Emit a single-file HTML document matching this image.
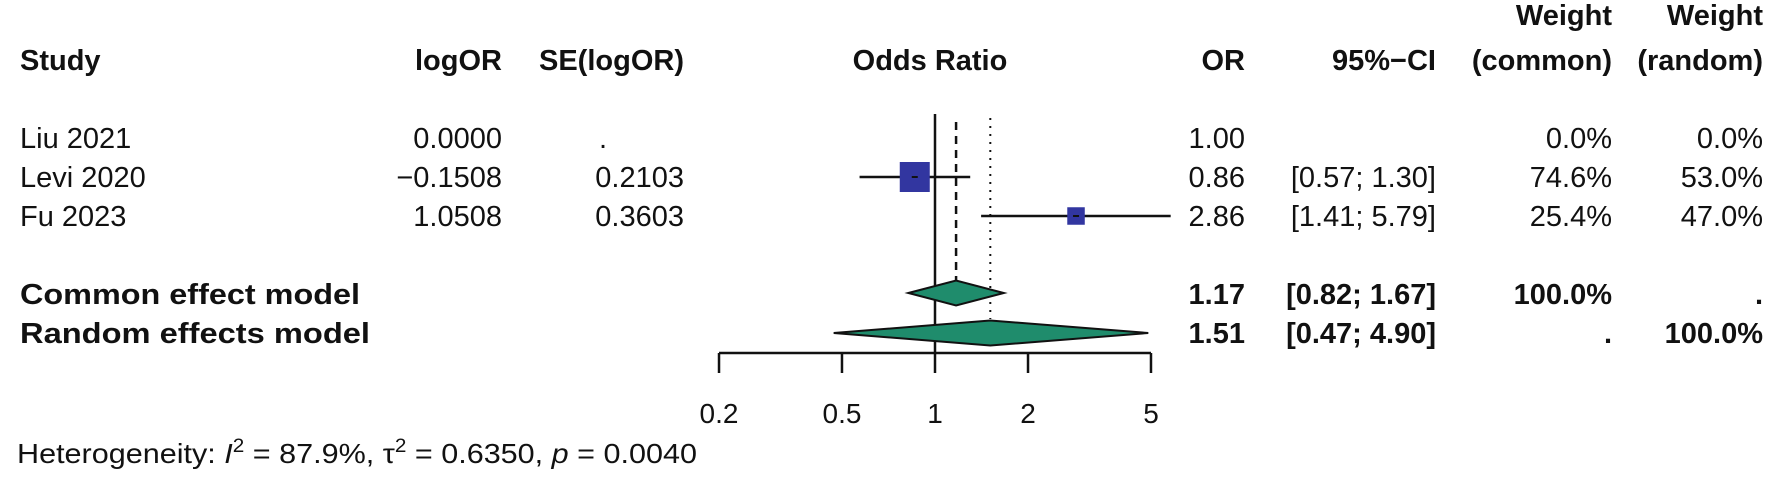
<!DOCTYPE html>
<html><head><meta charset="utf-8"><style>
html,body{margin:0;padding:0;background:#fff;}
svg{display:block;font-family:"Liberation Sans",Arial,sans-serif;}
</style></head><body>
<svg id="fp" width="1772" height="483" viewBox="0 0 1772 483">
<g id="hdr" font-weight="bold" font-size="29" fill="#111">
<text x="20" y="70">Study</text>
<text x="502" y="70" text-anchor="end">logOR</text>
<text x="684" y="70" text-anchor="end">SE(logOR)</text>
<text x="930" y="70" text-anchor="middle">Odds Ratio</text>
<text x="1245" y="70" text-anchor="end">OR</text>
<text x="1436" y="70" text-anchor="end">95%−CI</text>
<text x="1612" y="25" text-anchor="end">Weight</text>
<text x="1612" y="70" text-anchor="end">(common)</text>
<text x="1763" y="25" text-anchor="end">Weight</text>
<text x="1763" y="70" text-anchor="end">(random)</text>
</g>
<g id="rows"></g>
<g id="plot"></g>
<text x="17" y="463" font-size="28" fill="#111" textLength="680" lengthAdjust="spacingAndGlyphs">Heterogeneity: <tspan font-style="italic">I</tspan><tspan dy="-11" font-size="19">2</tspan><tspan dy="11"> = 87.9%, τ</tspan><tspan dy="-11" font-size="19">2</tspan><tspan dy="11"> = 0.6350, </tspan><tspan font-style="italic">p</tspan> = 0.0040</text>
</svg>
<script>
const studies = ["Liu 2021","Levi 2020","Fu 2023"];
const logOR = ["0.0000","−0.1508","1.0508"];
const seLogOR = [".","0.2103","0.3603"];
const orVals = [1.00, 0.86, 2.86];
const ciLow = [null, 0.57, 1.41];
const ciHigh = [null, 1.30, 5.79];
const wCommon = [0.0, 74.6, 25.4];
const wRandom = [0.0, 53.0, 47.0];
const modelNames = ["Common effect model","Random effects model"];
const modelOR = [1.17, 1.51];
const modelLow = [0.82, 0.47];
const modelHigh = [1.67, 4.90];
const modelWCommon = ["100.0%","."];
const modelWRandom = [".","100.0%"];
const ticks = [0.2, 0.5, 1, 2, 5];
const tickLabels = ["0.2","0.5","1","2","5"];

const NS="http://www.w3.org/2000/svg";
const x = v => 935 + 134.2*Math.log(v);
const rowY = i => 138 + i*39;
const modelY = i => 293 + i*39;
function mk(tag, attrs, parent, txt){
  const e=document.createElementNS(NS,tag);
  for(const k in attrs) e.setAttribute(k, attrs[k]);
  if(txt!==undefined) e.textContent=txt;
  parent.appendChild(e); return e;
}
const rows=document.getElementById('rows');
const plot=document.getElementById('plot');
const f2 = v => v.toFixed(2);
studies.forEach((s,i)=>{
  const b=rowY(i)+10;
  const g=mk('g',{'font-size':29,fill:'#111'},rows);
  
  
  let t;
  t=mk('text',{x:20,y:b},g,s);
   
  t=mk('text',{x:502,y:b,'text-anchor':'end'},g,logOR[i]);
   
  t=mk('text',{x:607,y:b,'text-anchor':'end'},g,seLogOR[i]);
  if(seLogOR[i]!==".") t.setAttribute('x',684);
   
  t=mk('text',{x:1245,y:b,'text-anchor':'end'},g,f2(orVals[i]));
   
  if(ciLow[i]!==null){
    t=mk('text',{x:1436,y:b,'text-anchor':'end'},g,'['+f2(ciLow[i])+'; '+f2(ciHigh[i])+']');
     
  }
  t=mk('text',{x:1612,y:b,'text-anchor':'end'},g,wCommon[i].toFixed(1)+'%');
   
  t=mk('text',{x:1763,y:b,'text-anchor':'end'},g,wRandom[i].toFixed(1)+'%');
   
});
const nameWidths = [340, 350];
modelNames.forEach((s,i)=>{
  const b=modelY(i)+11;
  const g=mk('g',{'font-size':29,'font-weight':'bold',fill:'#111'},rows);
  
  
  let t;
  t=mk('text',{x:20,y:b,textLength:nameWidths[i],lengthAdjust:'spacingAndGlyphs'},g,s);
   
  t=mk('text',{x:1245,y:b,'text-anchor':'end'},g,f2(modelOR[i]));
   
  t=mk('text',{x:1436,y:b,'text-anchor':'end'},g,'['+f2(modelLow[i])+'; '+f2(modelHigh[i])+']');
   
  t=mk('text',{x:1612,y:b,'text-anchor':'end'},g,modelWCommon[i]);
   
  t=mk('text',{x:1763,y:b,'text-anchor':'end'},g,modelWRandom[i]);
   
});
let l;
l=mk('line',{x1:x(1),x2:x(1),y1:114,y2:353,stroke:'#111','stroke-width':2.5},plot);
 
l=mk('line',{x1:x(modelOR[0]),x2:x(modelOR[0]),y1:122,y2:modelY(0)-12,stroke:'#111','stroke-width':2.5,'stroke-dasharray':'8,6'},plot);
 
l=mk('line',{x1:x(modelOR[1]),x2:x(modelOR[1]),y1:118,y2:modelY(1)-13,stroke:'#111','stroke-width':2,'stroke-dasharray':'2,6'},plot);
 
studies.forEach((s,i)=>{
  const y=rowY(i)+ (i===0?-5:0);
  if(ciLow[i]!==null){
    l=mk('line',{x1:x(ciLow[i]),x2:x(ciHigh[i]),y1:y,y2:y,stroke:'#111','stroke-width':2.5},plot);
     
  }
  const sz=30*Math.sqrt(wCommon[i]/74.6);
  if(sz>0){
    const r=mk('rect',{x:x(orVals[i])-sz/2,y:y-sz/2,width:sz,height:sz,fill:'#3236a0'},plot);
     
    l=mk('line',{x1:x(orVals[i])-3,x2:x(orVals[i])+3,y1:y,y2:y,stroke:'#111','stroke-width':2},plot);
     
  }
});
modelNames.forEach((s,i)=>{
  const y=modelY(i)+ (i===1?1:0);
  const h=12.5;
  const p=[[x(modelLow[i]),y],[x(modelOR[i]),y-h],[x(modelHigh[i]),y],[x(modelOR[i]),y+h]].map(a=>a.join(',')).join(' ');
  const d=mk('polygon',{points:p,fill:'#1f8c6c',stroke:'#111','stroke-width':2},plot);
   
});
l=mk('line',{x1:x(ticks[0]),x2:x(ticks[ticks.length-1]),y1:353,y2:353,stroke:'#111','stroke-width':2.5},plot);
 
ticks.forEach((v,i)=>{
  l=mk('line',{x1:x(v),x2:x(v),y1:353,y2:373,stroke:'#111','stroke-width':2.5},plot);
   
  const t=mk('text',{x:x(v),y:423,'text-anchor':'middle','font-size':28,fill:'#111'},plot,tickLabels[i]);
   
});
</script>
</body></html>
